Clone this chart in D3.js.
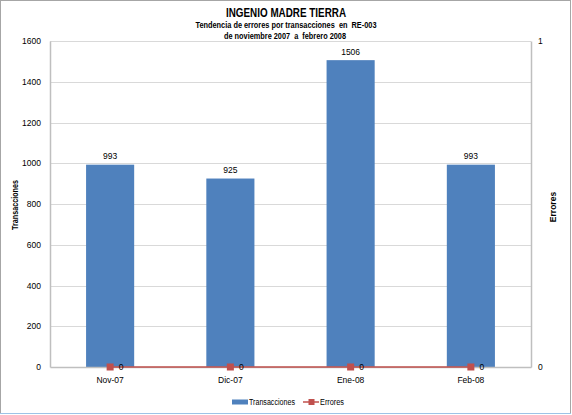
<!DOCTYPE html>
<html>
<head>
<meta charset="utf-8">
<script src="https://cdn.jsdelivr.net/npm/d3@7"></script>
<style>
  body { margin: 0; background: #fff; }
  svg { display: block; }
  text { font-family: "Liberation Sans Narrow", "Liberation Sans", Arial, sans-serif; fill: #000; }
</style>
</head>
<body>
<script>
// chart values
const months = ["Nov-07", "Dic-07", "Ene-08", "Feb-08"];
const transacciones = [993, 925, 1506, 993];
const errores = [0, 0, 0, 0];
const leftTicks = [0, 200, 400, 600, 800, 1000, 1200, 1400, 1600];
const rightTicks = [0, 1];

const width = 572, height = 415;
const marginTop = 41, marginRight = 41, marginBottom = 48, marginLeft = 50;
const blue = "#4F81BD", red = "#C0504D";

const svg = d3.select("body").append("svg")
    .attr("width", width)
    .attr("height", height)
    .attr("viewBox", [0, 0, width, height]);

// chart frame
svg.append("rect")
    .attr("x", 0.5).attr("y", 0.5)
    .attr("width", width - 2).attr("height", 413)
    .attr("fill", "#fff")
    .attr("stroke", "#a6a6a6");
svg.append("line")
    .attr("x1", 0).attr("x2", width - 1)
    .attr("y1", 413.5).attr("y2", 413.5)
    .attr("stroke", "#9dc3e6");

const x = d3.scaleBand()
    .domain(months)
    .range([marginLeft, width - marginRight])
    .paddingInner(0.6)
    .paddingOuter(0.3);

const y = d3.scaleLinear()
    .domain([0, 1600])
    .range([height - marginBottom, marginTop]);

const y2 = d3.scaleLinear()
    .domain([0, 1])
    .range([height - marginBottom, marginTop]);

// gridlines
svg.append("g")
    .attr("stroke", "#d9d9d9")
    .selectAll("line")
    .data(leftTicks.slice(1))
    .join("line")
      .attr("x1", marginLeft).attr("x2", width - marginRight)
      .attr("y1", d => Math.round(y(d)) + 0.5)
      .attr("y2", d => Math.round(y(d)) + 0.5);

// left axis
const yAxis = d3.axisLeft(y).tickValues(leftTicks).tickSize(0).tickPadding(9).tickFormat(d3.format("d"));
svg.append("g")
    .attr("transform", `translate(${marginLeft},0)`)
    .call(yAxis)
    .call(g => g.select(".domain").attr("stroke", "#bfbfbf").attr("stroke-width", 1.5))
    .call(g => g.selectAll("text").attr("font-size", 8.5).attr("fill", "#000"));

// right axis
const y2Axis = d3.axisRight(y2).tickValues(rightTicks).tickSize(0).tickPadding(7).tickFormat(d3.format("d"));
svg.append("g")
    .attr("transform", `translate(${width - marginRight},0)`)
    .call(y2Axis)
    .call(g => g.select(".domain").attr("stroke", "#bfbfbf").attr("stroke-width", 1.5))
    .call(g => g.selectAll("text").attr("font-size", 8.5).attr("fill", "#000"));

// bars
svg.append("g")
    .attr("fill", blue)
    .selectAll("rect")
    .data(transacciones)
    .join("rect")
      .attr("x", (d, i) => x(months[i]))
      .attr("y", d => y(d))
      .attr("width", x.bandwidth())
      .attr("height", d => y(0) - y(d));

svg.append("g")
    .attr("text-anchor", "middle")
    .attr("font-size", 8.5)
    .selectAll("text")
    .data(transacciones)
    .join("text")
      .attr("x", (d, i) => x(months[i]) + x.bandwidth() / 2)
      .attr("y", d => y(d) - 5.5)
      .text(d => d);

// bottom axis
const xAxis = d3.axisBottom(x).tickSize(0).tickPadding(10);
svg.append("g")
    .attr("transform", `translate(0,${height - marginBottom})`)
    .call(xAxis)
    .call(g => g.select(".domain").attr("stroke", "#bfbfbf").attr("stroke-width", 1.5))
    .call(g => g.selectAll("text").attr("font-size", 8.5).attr("fill", "#000"));

// errores line
const line = d3.line()
    .x((d, i) => x(months[i]) + x.bandwidth() / 2)
    .y(d => y2(d));

svg.append("path")
    .datum(errores)
    .attr("fill", "none")
    .attr("stroke", red)
    .attr("stroke-width", 1.5)
    .attr("d", line);

svg.append("g")
    .attr("fill", red)
    .selectAll("rect")
    .data(errores)
    .join("rect")
      .attr("x", (d, i) => x(months[i]) + x.bandwidth() / 2 - 3.5)
      .attr("y", d => y2(d) - 3.5)
      .attr("width", 7)
      .attr("height", 7);

svg.append("g")
    .attr("font-size", 8.5)
    .selectAll("text")
    .data(errores)
    .join("text")
      .attr("x", (d, i) => x(months[i]) + x.bandwidth() / 2 + 8.5)
      .attr("y", d => y2(d) + 3)
      .text(d => d);

// titles
svg.append("text")
    .attr("x", 286).attr("y", 17)
    .attr("text-anchor", "middle")
    .attr("font-size", 13).attr("font-weight", "bold")
    .attr("textLength", 120).attr("lengthAdjust", "spacingAndGlyphs")
    .text("INGENIO MADRE TIERRA");

svg.append("text")
    .attr("x", 286).attr("y", 28)
    .attr("text-anchor", "middle")
    .attr("font-size", 9).attr("font-weight", "bold")
    .attr("textLength", 181).attr("lengthAdjust", "spacingAndGlyphs")
    .attr("xml:space", "preserve")
    .text("Tendencia de errores por transacciones  en  RE-003");

svg.append("text")
    .attr("x", 285).attr("y", 38.5)
    .attr("text-anchor", "middle")
    .attr("font-size", 9).attr("font-weight", "bold")
    .attr("textLength", 122).attr("lengthAdjust", "spacingAndGlyphs")
    .attr("xml:space", "preserve")
    .text("de noviembre 2007  a  febrero 2008");

svg.append("text")
    .attr("transform", "translate(18,205) rotate(-90)")
    .attr("text-anchor", "middle")
    .attr("font-size", 8.5).attr("font-weight", "bold")
    .attr("textLength", 50).attr("lengthAdjust", "spacingAndGlyphs")
    .text("Transacciones");

svg.append("text")
    .attr("transform", "translate(556,207) rotate(-90)")
    .attr("text-anchor", "middle")
    .attr("font-size", 8.5).attr("font-weight", "bold")
    .text("Errores");

// legend
const legend = svg.append("g").attr("font-size", 8.5);
legend.append("rect")
    .attr("x", 232).attr("y", 399.5)
    .attr("width", 16).attr("height", 5)
    .attr("fill", blue);
legend.append("text")
    .attr("x", 249).attr("y", 405)
    .attr("textLength", 46).attr("lengthAdjust", "spacingAndGlyphs")
    .text("Transacciones");
legend.append("line")
    .attr("x1", 303).attr("x2", 319)
    .attr("y1", 402).attr("y2", 402)
    .attr("stroke", red).attr("stroke-width", 1.5);
legend.append("rect")
    .attr("x", 308.5).attr("y", 399)
    .attr("width", 6).attr("height", 6)
    .attr("fill", red);
legend.append("text")
    .attr("x", 320).attr("y", 405)
    .attr("textLength", 24).attr("lengthAdjust", "spacingAndGlyphs")
    .text("Errores");
</script>
</body>
</html>
